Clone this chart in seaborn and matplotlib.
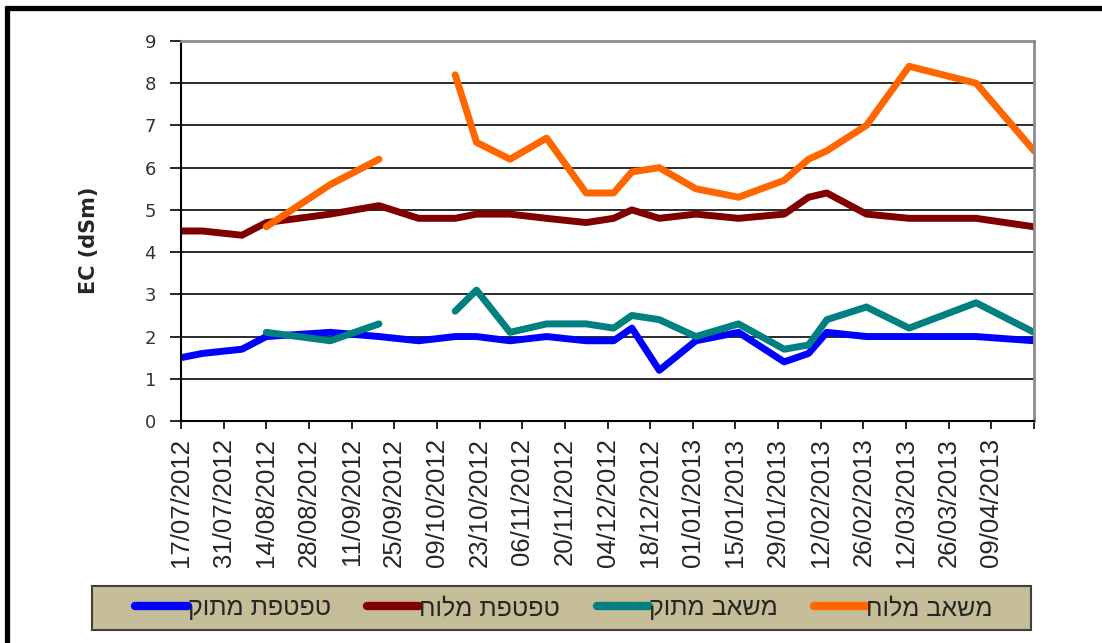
import numpy as np
import pandas as pd
import matplotlib
matplotlib.use("Agg")
import matplotlib.pyplot as plt
from matplotlib.lines import Line2D
from matplotlib.patches import Rectangle
import seaborn as sns

nan = np.nan

# ---------------- data ----------------
dates = ['2012-07-17', '2012-07-24', '2012-08-06', '2012-08-14', '2012-09-04',
         '2012-09-20', '2012-10-03', '2012-10-15', '2012-10-22', '2012-11-02',
         '2012-11-14', '2012-11-27', '2012-12-06', '2012-12-12', '2012-12-21',
         '2013-01-02', '2013-01-16', '2013-01-31', '2013-02-08', '2013-02-14',
         '2013-02-27', '2013-03-13', '2013-04-04', '2013-04-23']
drip_sweet = [1.5, 1.6, 1.7, 2.0, 2.1, 2.0, 1.9, 2.0, 2.0, 1.9, 2.0, 1.9,
              1.9, 2.2, 1.2, 1.9, 2.1, 1.4, 1.6, 2.1, 2.0, 2.0, 2.0, 1.9]
drip_salty = [4.5, 4.5, 4.4, 4.7, 4.9, 5.1, 4.8, 4.8, 4.9, 4.9, 4.8, 4.7,
              4.8, 5.0, 4.8, 4.9, 4.8, 4.9, 5.3, 5.4, 4.9, 4.8, 4.8, 4.6]
pump_sweet = [nan, nan, nan, 2.1, 1.9, 2.3, nan, 2.6, 3.1, 2.1, 2.3, 2.3,
              2.2, 2.5, 2.4, 2.0, 2.3, 1.7, 1.8, 2.4, 2.7, 2.2, 2.8, 2.1]
pump_salty = [nan, nan, nan, 4.6, 5.6, 6.2, nan, 8.2, 6.6, 6.2, 6.7, 5.4,
              5.4, 5.9, 6.0, 5.5, 5.3, 5.7, 6.2, 6.4, 7.0, 8.4, 8.0, 6.4]

series_names = ['טפטפת מתוק', 'טפטפת מלוח', 'משאב מתוק', 'משאב מלוח']
series_values = [drip_sweet, drip_salty, pump_sweet, pump_salty]
series_colors = ['#0000FF', '#800000', '#008080', '#FF6600']

tick_labels = ['17/07/2012', '31/07/2012', '14/08/2012', '28/08/2012', '11/09/2012',
               '25/09/2012', '09/10/2012', '23/10/2012', '06/11/2012', '20/11/2012',
               '04/12/2012', '18/12/2012', '01/01/2013', '15/01/2013', '29/01/2013',
               '12/02/2013', '26/02/2013', '12/03/2013', '26/03/2013', '09/04/2013']
axis_end = '23/04/2013'
y_label = 'EC (dSm)'

# ---------------- figure ----------------
sns.set_style("white")
plt.rcParams['font.family'] = ['DejaVu Sans']

fig = plt.figure(figsize=(11.02, 6.43), dpi=100)
ax = fig.add_axes([181 / 1102, 1 - 421 / 643, (1034 - 181) / 1102, (421 - 41) / 643])

x = pd.to_datetime(dates)
for name, vals, color in zip(series_names, series_values, series_colors):
    s = pd.Series(vals, dtype=float)
    d = pd.DataFrame({'date': x, 'val': s, 'seg': s.isna().cumsum()}).dropna()
    sns.lineplot(data=d, x='date', y='val', units='seg', estimator=None,
                 color=color, linewidth=5, ax=ax, legend=False)
for ln in ax.lines:
    ln.set_solid_capstyle('round')
    ln.set_solid_joinstyle('round')

tick_pos = list(pd.to_datetime(tick_labels, format='%d/%m/%Y')) + [pd.to_datetime(axis_end, format='%d/%m/%Y')]
ax.set_xlim(tick_pos[0], tick_pos[-1])
ax.set_ylim(0, 9)
ax.set_yticks(range(0, 10))
ax.set_xticks(tick_pos)
ax.set_xticklabels(tick_labels + [''], rotation=90, fontsize=18.5, family='Liberation Sans')
ax.tick_params(axis='x', direction='out', length=6, width=1.2, color='black', pad=6)
ax.tick_params(axis='y', direction='out', length=8, width=1.2, color='black', pad=10,
               labelsize=13, labelcolor='#333333')
ax.tick_params(axis='both', bottom=True, left=True)

ax.yaxis.grid(True, color='#1a1a1a', linewidth=1.3)
ax.xaxis.grid(False)
ax.set_axisbelow(True)

for side in ['left', 'bottom']:
    ax.spines[side].set_color('black')
    ax.spines[side].set_linewidth(1.5)
for side in ['top', 'right']:
    ax.spines[side].set_color('#8c8c8c')
    ax.spines[side].set_linewidth(2)

ax.set_xlabel('')
ax.set_ylabel(y_label, fontsize=15, fontweight='bold')
ax.yaxis.set_label_coords(-0.096, 0.476)

# legend background box
fig.add_artist(Rectangle((92 / 1102, 1 - 630 / 643), (1031 - 92) / 1102, 44 / 643,
                         transform=fig.transFigure, facecolor='#C4BD97',
                         edgecolor='#404040', linewidth=1.5, zorder=0))

# legend (Hebrew text reversed into visual order for LTR rendering)
handles = [Line2D([0], [0], color=c, linewidth=6, solid_capstyle='round') for c in series_colors]
labels = [n[::-1] for n in series_names]
leg = fig.legend(handles, labels, loc='center', ncol=4,
                 bbox_to_anchor=(564 / 1102, 1 - 608 / 643),
                 prop={'family': 'Liberation Sans', 'size': 18},
                 handlelength=2.1, handletextpad=0.0, columnspacing=1.45,
                 borderpad=0.3, frameon=False)

# outer chart border (top and left edges visible)
fig.add_artist(Line2D([5 / 1102, 1], [1 - 8 / 643, 1 - 8 / 643], transform=fig.transFigure,
                      color='black', linewidth=3.8, solid_capstyle='butt'))
fig.add_artist(Line2D([7 / 1102, 7 / 1102], [0, 1 - 6 / 643], transform=fig.transFigure,
                      color='black', linewidth=3.8, solid_capstyle='butt'))

fig.savefig('out.png', dpi=100, facecolor='white')
